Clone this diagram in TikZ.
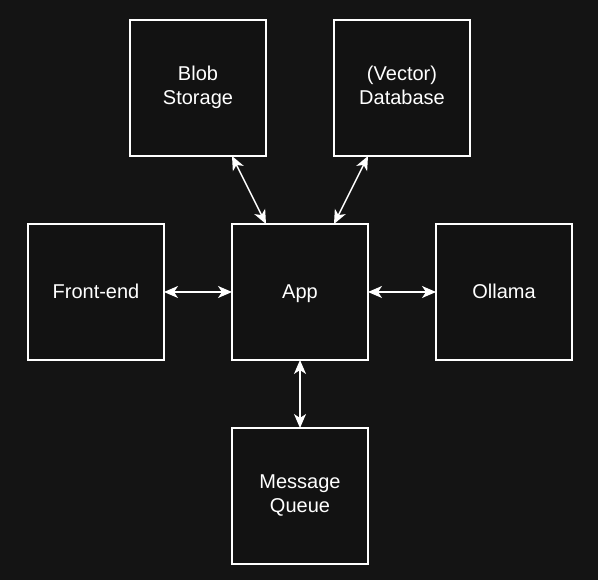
\documentclass[tikz,border=0pt]{standalone}
\usepackage{fontspec}
\setmainfont{Liberation Sans}
\usetikzlibrary{arrows.meta,calc}
\definecolor{bg}{HTML}{141414}
\definecolor{boxfill}{HTML}{121212}
\newcommand{\topstrut}{\rule{0pt}{18.8pt}}
\newcommand{\botstrut}{\rule[-5.2pt]{0pt}{5.2pt}}
\begin{document}
\begin{tikzpicture}[x=1pt,y=-1pt,
  blk/.style={draw=white,fill=boxfill,line width=1.5pt,minimum width=136pt,minimum height=136pt,inner sep=0pt,outer sep=0pt,
    text=white,align=center,font=\fontsize{20pt}{24pt}\selectfont,
    execute at begin node=\topstrut, execute at end node=\botstrut},
  conn/.style={draw=white,line width=1.5pt,{Stealth[length=14pt,width=12pt,inset=4pt]}-{Stealth[length=14pt,width=12pt,inset=4pt]}}]
\fill[bg] (0,0) rectangle (598,580);
\useasboundingbox (0,0) rectangle (598,580);
\node[blk] (blob) at (198,88) {Blob\\Storage};
\node[blk] (db) at (402,88) {(Vector)\\Database};
\node[blk] (fe) at (96,292) {Front-end};
\node[blk] (app) at (300,292) {App};
\node[blk] (ol) at (504,292) {Ollama};
\node[blk] (mq) at (300,496) {Message\\Queue};
\draw[conn] ($(blob.south west)!0.75!(blob.south east)$) -- ($(app.north west)!0.25!(app.north east)$);
\draw[conn] ($(db.south west)!0.25!(db.south east)$) -- ($(app.north west)!0.75!(app.north east)$);
\draw[conn] (fe.east) -- (app.west);
\draw[conn] (app.east) -- (ol.west);
\draw[conn] (app.south) -- (mq.north);
\end{tikzpicture}
\end{document}
